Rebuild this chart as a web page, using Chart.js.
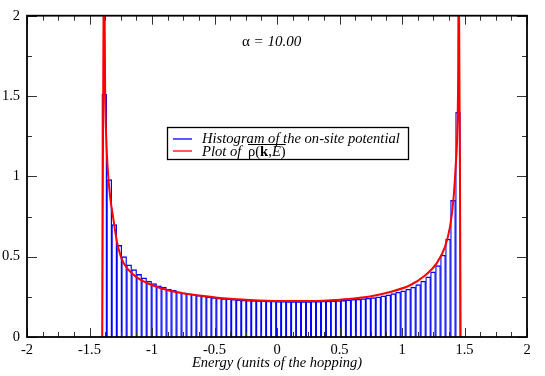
<!DOCTYPE html>
<html><head><meta charset="utf-8">
<script src="https://cdn.jsdelivr.net/npm/chart.js@4/dist/chart.umd.min.js"></script>
<style>html,body{margin:0;padding:0;background:#fff}#wrap{width:545px;height:376px}</style>
</head><body><div id="wrap"><canvas id="c" width="545" height="376"></canvas></div>
<script>
// ---- data ----
const binCenters = [
 -1.382,-1.342,-1.302,-1.262,-1.223,-1.183,-1.143,-1.103,-1.063,-1.023,
 -0.983,-0.944,-0.904,-0.864,-0.824,-0.784,-0.744,-0.704,-0.665,-0.625,
 -0.585,-0.545,-0.505,-0.465,-0.425,-0.386,-0.346,-0.306,-0.266,-0.226,
 -0.186,-0.146,-0.107,-0.067,-0.027,0.013,0.053,0.093,0.133,0.172,
 0.212,0.252,0.292,0.332,0.372,0.412,0.451,0.491,0.531,0.571,
 0.611,0.651,0.690,0.730,0.770,0.810,0.850,0.890,0.930,0.969,
 1.009,1.049,1.089,1.129,1.169,1.209,1.248,1.288,1.328,1.368,
 1.408,1.448];
const histValues = [
 1.51,0.98,0.70,0.57,0.50,0.45,0.42,0.39,0.368,0.348,
 0.333,0.319,0.310,0.298,0.290,0.281,0.275,0.269,0.265,0.260,
 0.255,0.250,0.246,0.242,0.239,0.237,0.234,0.232,0.230,0.229,
 0.227,0.226,0.225,0.224,0.223,0.222,0.222,0.221,0.221,0.221,
 0.221,0.221,0.222,0.222,0.223,0.224,0.225,0.227,0.229,0.231,
 0.234,0.236,0.239,0.242,0.246,0.250,0.256,0.262,0.270,0.279,
 0.287,0.298,0.310,0.327,0.348,0.375,0.406,0.445,0.510,0.610,
 0.850,1.400];
const curveX = [-1.398,-1.383,-1.375,-1.365,-1.352,-1.336,-1.310,-1.282,-1.242,-1.190,
 -1.110,-1.030,-0.922,-0.790,-0.602,-0.456,-0.216,0.024,0.264,0.504,
 0.664,0.744,0.904,1.064,1.184,1.277,1.344,1.384,1.411,1.429,
 1.442,1.449,1.454,1.469];
const curveY = [0,2.4,1.55,1.22,1.02,0.88,0.74,0.60,0.485,0.42,
 0.365,0.333,0.302,0.277,0.257,0.243,0.230,0.224,0.224,0.232,
 0.244,0.252,0.280,0.322,0.383,0.458,0.561,0.685,0.851,1.058,
 1.265,1.6,2.4,0];
const xTickValues = [-2,-1.5,-1,-0.5,0,0.5,1,1.5,2];
const xTickLabels = ["-2","-1.5","-1","-0.5","0","0.5","1","1.5","2"];
const yTickValues = [0,0.5,1,1.5,2];
const yTickLabels = ["0","0.5","1","1.5","2"];
const xMinorStep = 0.125;
const yMinorStep = 0.25;
const seriesNames = ["Histogram of the on-site potential","Plot of "];
const xTitle = "Energy (units of the hopping)";
const alphaValue = "10.00";

const FONT = '"Liberation Serif", "Times New Roman", serif';

const decor = {
  id: 'decor',
  afterDraw(chart) {
    const ctx = chart.ctx, a = chart.chartArea;
    const xs = chart.scales.x, ys = chart.scales.y;
    ctx.save();
    ctx.strokeStyle = '#333'; ctx.lineWidth = 1;
    const xmin = xs.min, xmax = xs.max, ymin = ys.min, ymax = ys.max;
    const nX = Math.round((xmax - xmin) / xMinorStep);
    for (let i = 0; i <= nX; i++) {
      const v = xmin + i * xMinorStep;
      const major = xTickValues.some(t => Math.abs(t - v) < 1e-9);
      const len = major ? 9 : 5;
      const px = Math.round(xs.getPixelForValue(v)) + 0.5;
      ctx.beginPath();
      ctx.moveTo(px, a.bottom); ctx.lineTo(px, a.bottom - len);
      ctx.moveTo(px, a.top); ctx.lineTo(px, a.top + len);
      ctx.stroke();
    }
    const nY = Math.round((ymax - ymin) / yMinorStep);
    for (let i = 0; i <= nY; i++) {
      const v = ymin + i * yMinorStep;
      const major = yTickValues.some(t => Math.abs(t - v) < 1e-9);
      const len = major ? 10 : 5;
      const py = Math.round(ys.getPixelForValue(v)) + 0.5;
      ctx.beginPath();
      ctx.moveTo(a.left, py); ctx.lineTo(a.left + len, py);
      ctx.moveTo(a.right, py); ctx.lineTo(a.right - len, py);
      ctx.stroke();
    }
    ctx.strokeStyle = '#000';
    ctx.lineWidth = 1.8;
    ctx.strokeRect(a.left, a.top, a.right - a.left, a.bottom - a.top);

    // legend box
    const lx = 167.5, ly = 127.5, lw = 241, lh = 32;
    ctx.fillStyle = '#fff';
    ctx.fillRect(lx, ly, lw, lh);
    ctx.lineWidth = 1.3; ctx.strokeStyle = '#000';
    ctx.strokeRect(lx, ly, lw, lh);
    ctx.lineWidth = 1.3;
    ctx.strokeStyle = '#0000ff';
    ctx.beginPath(); ctx.moveTo(173, 139); ctx.lineTo(192, 139); ctx.stroke();
    ctx.strokeStyle = '#ff0000';
    ctx.beginPath(); ctx.moveTo(173, 151); ctx.lineTo(192, 151); ctx.stroke();
    ctx.fillStyle = '#000';
    ctx.textBaseline = 'alphabetic';
    ctx.font = 'italic 14.6px ' + FONT;
    ctx.fillText(seriesNames[0], 202, 143);
    let x = 202; const by = 156;
    ctx.fillText(seriesNames[1], x, by); x += ctx.measureText(seriesNames[1]).width + 3;
    const ox0 = x;
    const parts = [['ρ','14.6px '],['(','14.6px '],['k','bold 14.6px '],[',','14.6px '],['E','italic 14.6px '],[')','14.6px ']];
    for (const [t, f] of parts) {
      ctx.font = f + FONT;
      ctx.fillText(t, x, by);
      x += ctx.measureText(t).width;
    }
    ctx.strokeStyle = '#000'; ctx.lineWidth = 1;
    ctx.beginPath(); ctx.moveTo(ox0, 144.5); ctx.lineTo(x, 144.5); ctx.stroke();

    // alpha annotation
    ctx.font = '15px ' + FONT;
    let ax = 242; const ay = 46;
    ctx.fillText('α', ax, ay); ax += ctx.measureText('α').width;
    ctx.font = 'italic 15px ' + FONT;
    ctx.fillText(' = ' + alphaValue, ax, ay);
    ctx.restore();
  }
};

new Chart(document.getElementById('c'), {
  type: 'bar',
  data: {
    datasets: [
      {
        type: 'line',
        data: curveX.map((v, i) => ({x: v, y: curveY[i]})),
        borderColor: '#ff0000',
        borderWidth: 2,
        pointRadius: 0,
        tension: 0,
        cubicInterpolationMode: 'monotone',
        fill: false,
        order: 0
      },
      {
        type: 'bar',
        data: binCenters.map((v, i) => ({x: v, y: histValues[i]})),
        backgroundColor: '#ffffff',
        borderColor: '#0000ff',
        borderWidth: {left: 1.25, right: 1.25, top: 1.5, bottom: 0},
        barPercentage: 1.0,
        categoryPercentage: 1.0,
        grouped: false,
        order: 1
      }
    ]
  },
  options: {
    responsive: false,
    animation: false,
    devicePixelRatio: 1,
    layout: {padding: {left: 0, right: 18, top: 15, bottom: 0}},
    plugins: {legend: {display: false}, tooltip: {enabled: false}},
    scales: {
      x: {
        type: 'linear', min: -2, max: 2, offset: false,
        grid: {display: false, drawTicks: false},
        border: {display: false},
        afterBuildTicks: s => { s.ticks = xTickValues.map(v => ({value: v})); },
        afterFit: s => { s.height = 39; },
        ticks: {
          autoSkip: false, maxRotation: 0, padding: 4, color: '#000',
          font: {family: FONT, size: 14.5},
          callback: (v) => xTickLabels[xTickValues.indexOf(v)]
        },
        title: {
          display: true, text: xTitle, color: '#000',
          font: {family: FONT, size: 14.5, style: 'italic'},
          padding: {top: 0, bottom: 4}
        }
      },
      y: {
        type: 'linear', min: 0, max: 2,
        grid: {display: false, drawTicks: false},
        border: {display: false},
        afterBuildTicks: s => { s.ticks = yTickValues.map(v => ({value: v})); },
        afterFit: s => { s.width = 27; },
        ticks: {
          autoSkip: false, padding: 7, color: '#000',
          font: {family: FONT, size: 14.5},
          callback: (v) => yTickLabels[yTickValues.indexOf(v)]
        }
      }
    }
  },
  plugins: [decor]
});
</script>
</body></html>
